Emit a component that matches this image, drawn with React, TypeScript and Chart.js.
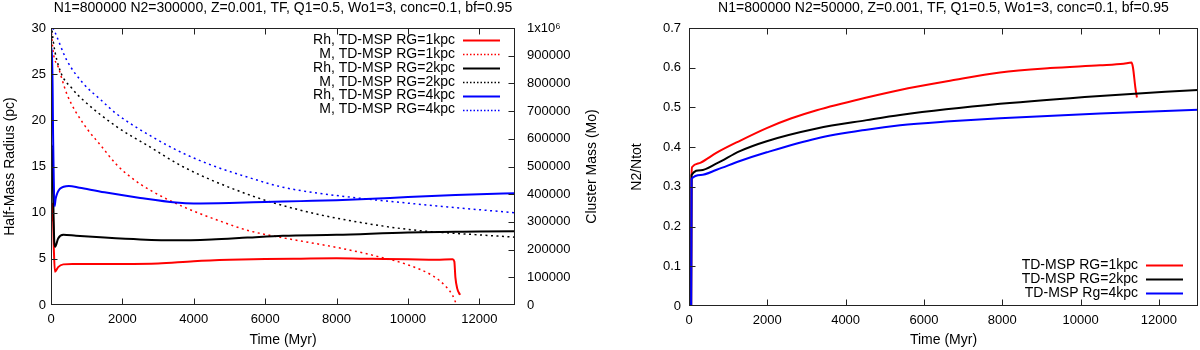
import React, { useEffect, useRef } from 'react';
import { Chart, registerables } from 'chart.js';

Chart.register(...registerables);

const FONT = "'Liberation Sans', Arial, Helvetica, sans-serif";
Chart.defaults.font.family = FONT;
Chart.defaults.color = '#000';

const RED = '#ff0000';
const BLACK = '#000000';
const BLUE = '#0000ff';

// ---------- Tick values ----------
const TIME_TICKS = [0, 2000, 4000, 6000, 8000, 10000, 12000];

// ---------- Left panel: half-mass radius (pc) ----------
const RH1_T = [0, 20, 45, 80, 110, 200, 345, 600, 1000, 2000, 3000, 4000, 5000, 6000, 7000, 8000, 9000, 10000, 10800, 11250, 11300, 11330, 11380, 11460];
const RH1_V = [9.0, 9.5, 11.0, 6.0, 3.6, 4.1, 4.4, 4.45, 4.45, 4.45, 4.5, 4.75, 4.9, 4.98, 5.02, 5.05, 5.0, 4.95, 4.9, 4.95, 4.7, 3.0, 1.8, 1.1];

const RH2_T = [0, 30, 60, 90, 115, 200, 345, 700, 1500, 2500, 3500, 4500, 5500, 6500, 8000, 10000, 12000, 13000];
const RH2_V = [14.5, 17.3, 12.0, 7.0, 6.3, 7.2, 7.6, 7.5, 7.3, 7.1, 7.0, 7.1, 7.3, 7.5, 7.6, 7.85, 7.95, 8.0];

const RH4_T = [0, 15, 30, 60, 100, 130, 250, 500, 800, 1500, 2500, 3500, 4000, 5000, 6000, 7000, 8000, 9000, 10000, 11000, 12000, 13000];
const RH4_V = [23, 27.8, 27.8, 18, 10.7, 11.5, 12.6, 12.9, 12.7, 12.2, 11.6, 11.1, 11.0, 11.05, 11.15, 11.25, 11.35, 11.5, 11.7, 11.85, 12.0, 12.1];

// ---------- Left panel: cluster mass (Mo) ----------
const M1_T = [0, 65, 200, 450, 900, 1400, 1850, 2300, 2770, 3700, 4650, 5550, 6400, 7000, 8000, 9000, 10000, 10700, 11070, 11250, 11350];
const M1_V = [1000000, 910000, 860000, 760000, 656000, 575000, 505000, 455000, 415000, 355000, 307000, 268000, 245000, 231000, 208000, 180000, 145000, 105000, 66000, 35000, 5000];

const M2_T = [0, 65, 250, 600, 900, 1837, 2769, 3700, 5566, 6965, 8270, 10134, 12000, 13000];
const M2_V = [1030000, 950000, 848000, 780000, 740000, 644000, 571000, 499000, 397000, 343000, 307000, 271000, 253000, 245000];

const M4_T = [0, 60, 112, 440, 904, 1400, 1837, 2769, 3700, 4600, 5500, 6400, 7000, 8270, 10134, 12000, 13000];
const M4_V = [1060000, 1000000, 985000, 884000, 800000, 740000, 690000, 612000, 548000, 500000, 462000, 428000, 413000, 391000, 366000, 344000, 333000];

// ---------- Right panel: N2/Ntot ----------
const N1_T = [0, 55, 65, 80, 300, 707, 1300, 1985, 2600, 3262, 4539, 5390, 6667, 7944, 9221, 10498, 11100, 11300, 11340, 11400, 11440];
const N1_V = [0, 0, 0.33, 0.35, 0.361, 0.386, 0.416, 0.448, 0.472, 0.493, 0.525, 0.544, 0.567, 0.588, 0.599, 0.606, 0.61, 0.613, 0.60, 0.55, 0.525];

const N2_T = [0, 55, 65, 300, 707, 1300, 1985, 3262, 4539, 5390, 7944, 10498, 13000];
const N2_V = [0, 0, 0.33, 0.342, 0.359, 0.39, 0.415, 0.447, 0.468, 0.481, 0.509, 0.529, 0.544];

const N3_T = [0, 55, 65, 300, 707, 1300, 1985, 3262, 4539, 5390, 6667, 7944, 10498, 13000];
const N3_V = [0, 0, 0.32, 0.33, 0.343, 0.365, 0.387, 0.422, 0.444, 0.455, 0.465, 0.473, 0.485, 0.494];

const TITLE_LEFT = 'N1=800000 N2=300000, Z=0.001, TF, Q1=0.5, Wo1=3, conc=0.1, bf=0.95';
const TITLE_RIGHT = 'N1=800000 N2=50000, Z=0.001, TF, Q1=0.5, Wo1=3, conc=0.1, bf=0.95';

const pts = (t: number[], v: number[]) => t.map((x, i) => ({ x, y: v[i] }));

const DOT = [2, 3.5];
const TEXT_SIZE = 14;
const TICK_SIZE = 13;

// Gnuplot-style box border with inward ticks, custom legend, right-axis title
const framePlugin = {
  id: 'frame',
  afterDatasetsDraw(chart: any, _args: any, opts: any) {
    const { ctx, chartArea: a } = chart;
    const L = Math.round(a.left) + 0.5;
    const R = Math.round(a.right) - 0.5;
    const T = Math.round(a.top) + 0.5;
    const B = Math.round(a.bottom) - 0.5;
    const TL = 6;
    ctx.save();
    ctx.strokeStyle = '#222';
    ctx.lineWidth = 1;
    ctx.setLineDash([]);
    ctx.strokeRect(L, T, R - L, B - T);
    ctx.beginPath();
    const xs = chart.scales.x;
    xs.ticks.forEach((tk: any) => {
      const px = Math.round(xs.getPixelForValue(tk.value)) + 0.5;
      if (px <= L + 1 || px >= R - 1) return;
      ctx.moveTo(px, B); ctx.lineTo(px, B - TL);
      ctx.moveTo(px, T); ctx.lineTo(px, T + TL);
    });
    const ys = chart.scales.y;
    ys.ticks.forEach((tk: any) => {
      const py = Math.round(ys.getPixelForValue(tk.value)) + 0.5;
      if (py <= T + 1 || py >= B - 1) return;
      ctx.moveTo(L, py); ctx.lineTo(L + TL, py);
    });
    const y2 = chart.scales.y2;
    if (y2) {
      y2.ticks.forEach((tk: any) => {
        const py = Math.round(y2.getPixelForValue(tk.value)) + 0.5;
        if (py <= T + 1 || py >= B - 1) return;
        ctx.moveTo(R, py); ctx.lineTo(R - TL, py);
      });
    }
    ctx.stroke();

    // legend
    const lg = opts.legend;
    if (lg) {
      ctx.font = `${lg.size}px ${FONT}`;
      ctx.textAlign = 'right';
      ctx.textBaseline = 'middle';
      chart.data.datasets.forEach((ds: any, i: number) => {
        const y = lg.y0 + i * lg.dy;
        ctx.fillStyle = '#000';
        ctx.fillText(ds.label, lg.textRight, y);
        ctx.beginPath();
        ctx.strokeStyle = ds.borderColor;
        ctx.lineWidth = ds.borderDash ? 1.5 : 2;
        ctx.setLineDash(ds.borderDash ? [1.5, 2] : []);
        ctx.moveTo(lg.x1, Math.round(y) + 0.5);
        ctx.lineTo(lg.x2, Math.round(y) + 0.5);
        ctx.stroke();
      });
      ctx.setLineDash([]);
    }

    // right-hand axis title (reads bottom to top)
    const rt = opts.rightTitle;
    if (rt) {
      ctx.save();
      ctx.translate(rt.x, (a.top + a.bottom) / 2);
      ctx.rotate(-Math.PI / 2);
      ctx.font = `${rt.size}px ${FONT}`;
      ctx.fillStyle = '#000';
      ctx.textAlign = 'center';
      ctx.textBaseline = 'middle';
      ctx.fillText(rt.text, 0, 0);
      ctx.restore();
    }
    ctx.restore();
  },
};

const tickFont = { size: TICK_SIZE };
const titleFont = { size: TEXT_SIZE };

function line(label: string, t: number[], v: number[], color: string, dashed: boolean, yAxisID: string, order: number) {
  return {
    label,
    data: pts(t, v),
    borderColor: color,
    backgroundColor: color,
    borderWidth: dashed ? 1.5 : 2,
    borderDash: dashed ? DOT : undefined,
    borderCapStyle: 'butt',
    pointRadius: 0,
    cubicInterpolationMode: 'monotone',
    fill: false,
    yAxisID,
    order,
  };
}

const xScale = (height: number) => ({
  type: 'linear', min: 0, max: 13000,
  ticks: { autoSkip: false, maxRotation: 0, padding: 7, font: tickFont, color: '#000', callback: (v: any) => String(v) },
  afterBuildTicks: (s: any) => { s.ticks = TIME_TICKS.map((value) => ({ value })); },
  grid: { display: false, drawTicks: false }, border: { display: false },
  title: { display: true, text: 'Time (Myr)', font: titleFont, color: '#000', padding: { top: 0, bottom: 1 } },
  afterFit: (s: any) => { s.height = height; },
});

function leftConfig(): any {
  return {
    type: 'line',
    data: {
      datasets: [
        line('Rh, TD-MSP RG=1kpc', RH1_T, RH1_V, RED, false, 'y', 6),
        line('M, TD-MSP RG=1kpc', M1_T, M1_V, RED, true, 'y2', 5),
        line('Rh, TD-MSP RG=2kpc', RH2_T, RH2_V, BLACK, false, 'y', 4),
        line('M, TD-MSP RG=2kpc', M2_T, M2_V, BLACK, true, 'y2', 3),
        line('Rh, TD-MSP RG=4kpc', RH4_T, RH4_V, BLUE, false, 'y', 2),
        line('M, TD-MSP RG=4kpc', M4_T, M4_V, BLUE, true, 'y2', 1),
      ],
    },
    plugins: [framePlugin],
    options: {
      responsive: false,
      animation: false,
      devicePixelRatio: 1,
      layout: { padding: { left: 0, right: 0, top: 0, bottom: 0 } },
      plugins: {
        legend: { display: false },
        tooltip: { enabled: false },
        title: {
          display: true, text: TITLE_LEFT, fullSize: false, color: '#000',
          font: { size: TEXT_SIZE, weight: 'normal' }, padding: { top: 0, bottom: 11.2 },
        },
        frame: {
          legend: { size: TEXT_SIZE, textRight: 455, x1: 463, x2: 500, y0: 40, dy: 13.9 },
          rightTitle: { text: 'Cluster Mass (Mo)', x: 592, size: TEXT_SIZE },
        },
      },
      scales: {
        x: xScale(45),
        y: {
          type: 'linear', position: 'left', min: 0, max: 30,
          ticks: { stepSize: 5, padding: 5, font: tickFont, color: '#000', callback: (v: any) => String(v) },
          grid: { display: false, drawTicks: false }, border: { display: false },
          title: { display: true, text: 'Half-Mass Radius (pc)', font: titleFont, color: '#000', padding: { top: 2, bottom: 0 } },
          afterFit: (s: any) => { s.width = 51; },
        },
        y2: {
          type: 'linear', position: 'right', min: 0, max: 1000000,
          ticks: { stepSize: 100000, padding: 12, font: tickFont, color: '#000', callback: (v: any) => (v === 1000000 ? '1x10\u2076' : String(v)) },
          grid: { display: false, drawTicks: false }, border: { display: false },
          afterFit: (s: any) => { s.width = 85; },
        },
      },
    },
  };
}

function rightConfig(): any {
  return {
    type: 'line',
    data: {
      datasets: [
        line('TD-MSP RG=1kpc', N1_T, N1_V, RED, false, 'y', 3),
        line('TD-MSP RG=2kpc', N2_T, N2_V, BLACK, false, 'y', 2),
        line('TD-MSP Rg=4kpc', N3_T, N3_V, BLUE, false, 'y', 1),
      ],
    },
    plugins: [framePlugin],
    options: {
      responsive: false,
      animation: false,
      devicePixelRatio: 1,
      layout: { padding: { left: 27, right: 2, top: 0, bottom: 0 } },
      plugins: {
        legend: { display: false },
        tooltip: { enabled: false },
        title: {
          display: true, text: TITLE_RIGHT, fullSize: false, color: '#000',
          font: { size: TEXT_SIZE, weight: 'normal' }, padding: { top: 0, bottom: 11.2 },
        },
        frame: {
          legend: { size: TEXT_SIZE, textRight: 538, x1: 546, x2: 583, y0: 265, dy: 13.85 },
        },
      },
      scales: {
        x: xScale(44),
        y: {
          type: 'linear', position: 'left', min: 0, max: 0.7,
          ticks: { stepSize: 0.1, padding: 8, font: tickFont, color: '#000', callback: (v: any) => (v === 0 ? '0' : Number(v).toFixed(1)) },
          grid: { display: false, drawTicks: false }, border: { display: false },
          title: { display: true, text: 'N2/Ntot', font: titleFont, color: '#000', padding: { top: 2, bottom: 0 } },
          afterFit: (s: any) => { s.width = 62; },
        },
      },
    },
  };
}

function ChartCanvas({ makeConfig }: { makeConfig: () => any }) {
  const ref = useRef<HTMLCanvasElement>(null);
  useEffect(() => {
    const chart = new Chart(ref.current as HTMLCanvasElement, makeConfig());
    return () => chart.destroy();
  }, [makeConfig]);
  return <canvas ref={ref} width={600} height={350} style={{ display: 'block', width: 600, height: 350 }} />;
}

export default function App() {
  return (
    <div style={{ position: 'fixed', left: 0, top: 0, width: 1200, height: 350, display: 'flex', background: '#fff' }}>
      <ChartCanvas makeConfig={leftConfig} />
      <ChartCanvas makeConfig={rightConfig} />
    </div>
  );
}
